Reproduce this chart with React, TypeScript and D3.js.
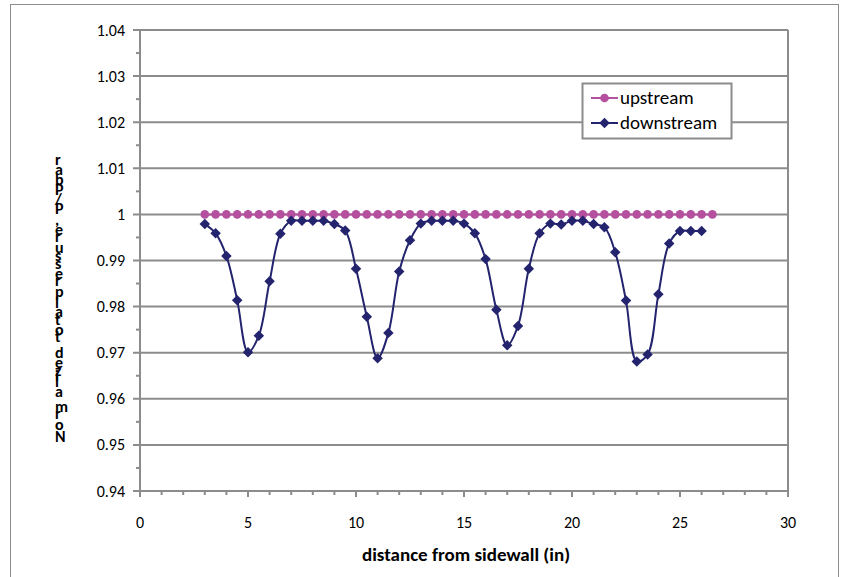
import * as d3 from "d3";
import { useEffect, useRef } from "react";

// distance from sidewall (in)
const upstreamX = [3, 3.5, 4, 4.5, 5, 5.5, 6, 6.5, 7, 7.5, 8, 8.5, 9, 9.5, 10, 10.5, 11, 11.5, 12, 12.5,
    13, 13.5, 14, 14.5, 15, 15.5, 16, 16.5, 17, 17.5, 18, 18.5, 19, 19.5, 20, 20.5, 21, 21.5, 22, 22.5,
    23, 23.5, 24, 24.5, 25, 25.5, 26, 26.5];
const upstreamY = [1, 1, 1, 1, 1, 1, 1, 1, 1, 1, 1, 1, 1, 1, 1, 1, 1, 1, 1, 1,
    1, 1, 1, 1, 1, 1, 1, 1, 1, 1, 1, 1, 1, 1, 1, 1, 1, 1, 1, 1,
    1, 1, 1, 1, 1, 1, 1, 1];

const downstreamX = [3, 3.5, 4, 4.5, 5, 5.5, 6, 6.5, 7, 7.5, 8, 8.5, 9, 9.5, 10, 10.5, 11, 11.5, 12, 12.5,
    13, 13.5, 14, 14.5, 15, 15.5, 16, 16.5, 17, 17.5, 18, 18.5, 19, 19.5, 20, 20.5, 21, 21.5, 22, 22.5,
    23, 23.5, 24, 24.5, 25, 25.5, 26];
const downstreamY = [0.9979, 0.9959, 0.9910, 0.9814, 0.9701, 0.9737, 0.9855, 0.9958, 0.9986, 0.9986,
    0.9986, 0.9986, 0.9979, 0.9965, 0.9882, 0.9778, 0.9688, 0.9743, 0.9876, 0.9944,
    0.9980, 0.9986, 0.9986, 0.9986, 0.9980, 0.9959, 0.9903, 0.9793, 0.9716, 0.9758,
    0.9882, 0.9959, 0.9980, 0.9978, 0.9986, 0.9986, 0.9979, 0.9972, 0.9918, 0.9813,
    0.9681, 0.9696, 0.9827, 0.9937, 0.9964, 0.9964, 0.9964];

const xTicks = [0, 5, 10, 15, 20, 25, 30];
const yTicks = [0.94, 0.95, 0.96, 0.97, 0.98, 0.99, 1, 1.01, 1.02, 1.03, 1.04];

const seriesNames = ["upstream", "downstream"];
const yTitle = "Normalized total pressure, P/Pbar";
const xTitle = "distance from sidewall (in)";

const font = "Carlito, Calibri, 'Liberation Sans', Arial, sans-serif";
const gridColor = "#8c8c8c";
const upColor = "#b5509f";
const downColor = "#23236e";

function App() {
    const svgRef = useRef(null);

    useEffect(() => {
        const svg = d3.select(svgRef.current);
        svg.selectAll("*").remove();

        const area = { left: 140, right: 788, top: 30, bottom: 491 };

        const scX = d3.scaleLinear().domain([0, 30]).range([area.left, area.right]);
        const scY = d3.scaleLinear().domain([0.94, 1.04]).range([area.bottom, area.top]);

        // outer chart border
        svg.append("rect")
            .attr("x", 10.5).attr("y", 4.5)
            .attr("width", 828).attr("height", 600)
            .style("fill", "white")
            .style("stroke", gridColor)
            .style("stroke-width", 1);

        // horizontal gridlines
        svg.append("g")
            .selectAll("line")
            .data(yTicks)
            .enter()
            .append("line")
            .attr("x1", area.left - 7)
            .attr("x2", area.right)
            .attr("y1", d => scY(d))
            .attr("y2", d => scY(d))
            .style("stroke", gridColor)
            .style("stroke-width", 2);

        // minor y ticks
        svg.append("g")
            .selectAll("line")
            .data(d3.range(10).map(i => 0.945 + i * 0.01))
            .enter()
            .append("line")
            .attr("x1", area.left - 4)
            .attr("x2", area.left)
            .attr("y1", d => scY(d))
            .attr("y2", d => scY(d))
            .style("stroke", gridColor)
            .style("stroke-width", 2);

        // y axis and right border
        svg.append("line")
            .attr("x1", area.left).attr("x2", area.left)
            .attr("y1", area.top).attr("y2", area.bottom)
            .style("stroke", gridColor).style("stroke-width", 2);
        svg.append("line")
            .attr("x1", area.right).attr("x2", area.right)
            .attr("y1", area.top).attr("y2", area.bottom)
            .style("stroke", gridColor).style("stroke-width", 2);

        // x ticks every 1 unit
        svg.append("g")
            .selectAll("line")
            .data(d3.range(31))
            .enter()
            .append("line")
            .attr("x1", d => scX(d))
            .attr("x2", d => scX(d))
            .attr("y1", area.bottom)
            .attr("y2", d => area.bottom + (d % 5 === 0 ? 6 : 4))
            .style("stroke", gridColor)
            .style("stroke-width", 2);

        // tick labels
        svg.append("g")
            .selectAll("text")
            .data(yTicks)
            .enter()
            .append("text")
            .attr("x", 125)
            .attr("y", d => scY(d) + 5.5)
            .attr("text-anchor", "end")
            .style("font-family", font)
            .style("font-size", "16px")
            .text(d => d === 1 ? "1" : d3.format(".2f")(d));

        svg.append("g")
            .selectAll("text")
            .data(xTicks)
            .enter()
            .append("text")
            .attr("x", d => scX(d))
            .attr("y", 528)
            .attr("text-anchor", "middle")
            .style("font-family", font)
            .style("font-size", "16px")
            .text(d => d);

        // axis titles
        svg.append("text")
            .attr("x", (area.left + area.right) / 2 + 2)
            .attr("y", 561)
            .attr("text-anchor", "middle")
            .style("font-family", font)
            .style("font-size", "19px")
            .style("font-weight", "bold")
            .text(xTitle);

        // y title: runs bottom to top with upright glyphs (stacked look)
        const chars = yTitle.split("");
        svg.append("text")
            .attr("transform", "translate(55, 442) rotate(-90)")
            .attr("x", 0)
            .attr("y", 0)
            .attr("rotate", chars.map(() => 90).join(" "))
            .style("font-family", font)
            .style("font-size", "16px")
            .style("font-weight", "bold")
            .style("letter-spacing", "1.8px")
            .text(yTitle);

        const upData = upstreamX.map((x, i) => ({ x: x, y: upstreamY[i] }));
        const downData = downstreamX.map((x, i) => ({ x: x, y: downstreamY[i] }));

        const line = d3.line()
            .x(d => scX(d.x))
            .y(d => scY(d.y))
            .curve(d3.curveCatmullRom.alpha(0.5));

        svg.append("path")
            .datum(upData)
            .attr("d", line)
            .style("fill", "none")
            .style("stroke", upColor)
            .style("stroke-width", 2);

        svg.append("g")
            .selectAll("circle")
            .data(upData)
            .enter()
            .append("circle")
            .attr("cx", d => scX(d.x))
            .attr("cy", d => scY(d.y))
            .attr("r", 4.3)
            .style("fill", upColor);

        svg.append("path")
            .datum(downData)
            .attr("d", line)
            .style("fill", "none")
            .style("stroke", downColor)
            .style("stroke-width", 2);

        const diamond = d3.symbol().type(d3.symbolDiamond2).size(70);

        svg.append("g")
            .selectAll("path")
            .data(downData)
            .enter()
            .append("path")
            .attr("d", diamond)
            .attr("transform", d => `translate(${scX(d.x)}, ${scY(d.y)})`)
            .style("fill", downColor);

        // legend
        const legend = svg.append("g");
        legend.append("rect")
            .attr("x", 582.5).attr("y", 83.5)
            .attr("width", 149).attr("height", 55)
            .style("fill", "white")
            .style("stroke", gridColor)
            .style("stroke-width", 2);

        seriesNames.forEach((name, i) => {
            const cy = 98 + i * 25;
            const color = i === 0 ? upColor : downColor;
            legend.append("line")
                .attr("x1", 591).attr("x2", 618)
                .attr("y1", cy).attr("y2", cy)
                .style("stroke", color)
                .style("stroke-width", 2);
            if (i === 0) {
                legend.append("circle")
                    .attr("cx", 604.5).attr("cy", cy).attr("r", 4.3)
                    .style("fill", color);
            } else {
                legend.append("path")
                    .attr("d", diamond)
                    .attr("transform", `translate(604.5, ${cy})`)
                    .style("fill", color);
            }
            legend.append("text")
                .attr("x", 620)
                .attr("y", cy + 6)
                .style("font-family", font)
                .style("font-size", "19px")
                .text(name);
        });
    }, []);

    return (
        <svg
            ref={svgRef}
            width={849}
            height={577}
            style={{ position: "absolute", left: 0, top: 0, background: "white" }}
        ></svg>
    );
}

export default App;
